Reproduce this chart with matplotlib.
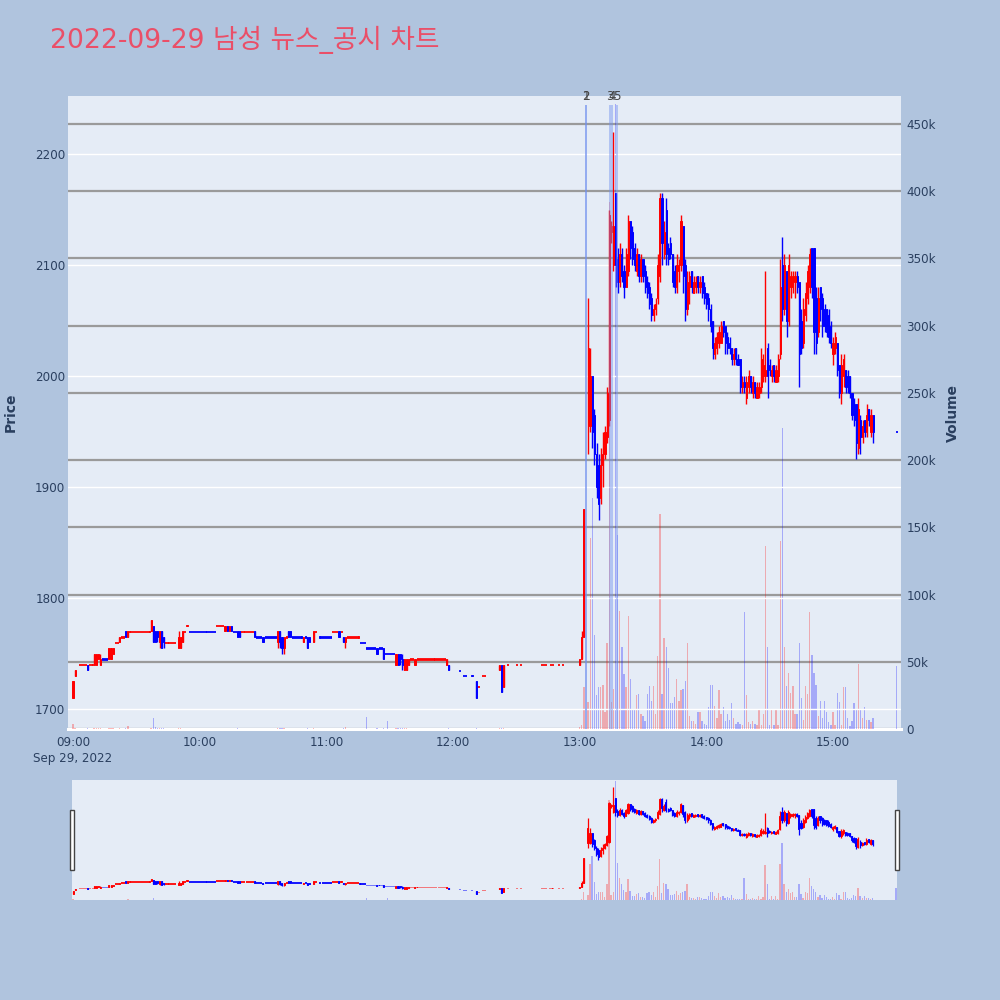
import matplotlib
matplotlib.use("Agg")
import matplotlib.pyplot as plt
from matplotlib.patches import Rectangle
from matplotlib.transforms import blended_transform_factory
import numpy as np

# ---------------- data ----------------
TITLE = "2022-09-29 남성 뉴스_공시 차트"
DATE_LABEL = "Sep 29, 2022"
hour_ticks = ["09:00", "10:00", "11:00", "12:00", "13:00", "14:00", "15:00"]
price_ticks = [1700, 1800, 1900, 2000, 2100, 2200]
volume_ticks = [0, 50000, 100000, 150000, 200000, 250000, 300000, 350000, 400000, 450000]
volume_tick_labels = ["0", "50k", "100k", "150k", "200k", "250k", "300k", "350k", "400k", "450k"]

# morning session: minutes after 09:00
am_min = [0, 1, 3, 4, 5, 6, 7, 8, 9, 10,
          11, 12, 13, 14, 15, 16, 17, 18, 19, 20,
          21, 22, 23, 24, 25, 26, 27, 28, 29, 30,
          31, 32, 33, 34, 35, 36, 37, 38, 39, 40,
          41, 42, 43, 44, 45, 46, 47, 48, 50, 51,
          52, 53, 54, 55, 56, 57, 58, 59, 60, 61,
          62, 63, 64, 65, 66, 67, 68, 69, 70, 71,
          72, 73, 74, 75, 76, 77, 78, 79, 80, 81,
          82, 83, 84, 85, 86, 87, 88, 89, 90, 91,
          92, 93, 94, 95, 96, 97, 98, 99, 100, 101,
          102, 103, 104, 105, 106, 107, 108, 109, 110, 111,
          112, 114, 115, 117, 118, 119, 120, 121, 122, 123,
          124, 125, 126, 127, 128, 129, 130, 131, 132, 133,
          134, 135, 136, 137, 138, 139, 140, 141, 142, 143,
          144, 145, 146, 147, 148, 149, 150, 151, 152, 153,
          154, 155, 156, 157, 158, 159, 160, 161, 162, 163,
          164, 165, 166, 167, 168, 169, 170, 171, 172, 173,
          174, 175, 176, 177, 178, 183, 185, 186, 189, 191,
          192, 194, 195, 202, 203, 204, 206, 210, 212, 222,
          223, 224, 226, 227, 230, 232]
am_open = [1710, 1730, 1740, 1740, 1740, 1740, 1740, 1740, 1740, 1740,
           1740, 1745, 1740, 1745, 1745, 1745, 1745, 1745, 1750, 1760,
           1760, 1760, 1765, 1765, 1770, 1765, 1770, 1770, 1770, 1770,
           1770, 1770, 1770, 1770, 1770, 1770, 1770, 1775, 1770, 1770,
           1760, 1770, 1765, 1760, 1760, 1760, 1760, 1760, 1755, 1755,
           1760, 1770, 1775, 1770, 1770, 1770, 1770, 1770, 1770, 1770,
           1770, 1770, 1770, 1770, 1770, 1770, 1775, 1775, 1775, 1775,
           1770, 1775, 1770, 1775, 1770, 1770, 1770, 1770, 1770, 1770,
           1770, 1770, 1770, 1770, 1770, 1765, 1765, 1765, 1765, 1765,
           1765, 1765, 1765, 1765, 1765, 1760, 1770, 1765, 1755, 1765,
           1770, 1770, 1765, 1765, 1765, 1765, 1765, 1760, 1765, 1765,
           1765, 1760, 1770, 1765, 1765, 1765, 1765, 1765, 1765, 1770,
           1770, 1770, 1770, 1770, 1765, 1760, 1765, 1765, 1765, 1765,
           1765, 1765, 1760, 1760, 1760, 1755, 1755, 1755, 1755, 1755,
           1755, 1755, 1755, 1755, 1750, 1750, 1750, 1750, 1750, 1740,
           1750, 1750, 1745, 1735, 1735, 1740, 1745, 1745, 1740, 1745,
           1745, 1745, 1745, 1745, 1745, 1745, 1745, 1745, 1745, 1745,
           1745, 1745, 1745, 1740, 1740, 1735, 1730, 1730, 1730, 1725,
           1720, 1730, 1730, 1735, 1740, 1720, 1740, 1740, 1740, 1740,
           1740, 1740, 1740, 1740, 1740, 1740]
am_high = [1725, 1735, 1740, 1740, 1740, 1740, 1740, 1740, 1740, 1750,
           1750, 1750, 1750, 1745, 1745, 1745, 1755, 1755, 1755, 1760,
           1760, 1765, 1765, 1765, 1770, 1770, 1770, 1770, 1770, 1770,
           1770, 1770, 1770, 1770, 1770, 1770, 1780, 1775, 1770, 1770,
           1770, 1770, 1765, 1760, 1760, 1760, 1760, 1760, 1770, 1765,
           1770, 1770, 1775, 1770, 1770, 1770, 1770, 1770, 1770, 1770,
           1770, 1770, 1770, 1770, 1770, 1770, 1775, 1775, 1775, 1775,
           1775, 1775, 1775, 1775, 1770, 1770, 1770, 1770, 1770, 1770,
           1770, 1770, 1770, 1770, 1770, 1765, 1765, 1765, 1765, 1765,
           1765, 1765, 1765, 1765, 1765, 1770, 1770, 1765, 1765, 1765,
           1770, 1770, 1765, 1765, 1765, 1765, 1765, 1765, 1765, 1765,
           1765, 1770, 1770, 1765, 1765, 1765, 1765, 1765, 1765, 1770,
           1770, 1770, 1770, 1770, 1765, 1765, 1765, 1765, 1765, 1765,
           1765, 1765, 1760, 1760, 1760, 1755, 1755, 1755, 1755, 1755,
           1755, 1755, 1755, 1755, 1750, 1750, 1750, 1750, 1750, 1750,
           1750, 1750, 1750, 1745, 1745, 1745, 1745, 1745, 1745, 1745,
           1745, 1745, 1745, 1745, 1745, 1745, 1745, 1745, 1745, 1745,
           1745, 1745, 1745, 1745, 1740, 1735, 1730, 1730, 1730, 1725,
           1720, 1730, 1730, 1740, 1740, 1740, 1740, 1740, 1740, 1740,
           1740, 1740, 1740, 1740, 1740, 1740]
am_low = [1710, 1730, 1740, 1740, 1740, 1740, 1735, 1740, 1740, 1740,
          1740, 1745, 1740, 1745, 1745, 1745, 1745, 1745, 1750, 1760,
          1760, 1760, 1765, 1765, 1765, 1765, 1770, 1770, 1770, 1770,
          1770, 1770, 1770, 1770, 1770, 1770, 1770, 1760, 1760, 1760,
          1755, 1755, 1755, 1760, 1760, 1760, 1760, 1760, 1755, 1755,
          1760, 1770, 1775, 1770, 1770, 1770, 1770, 1770, 1770, 1770,
          1770, 1770, 1770, 1770, 1770, 1770, 1775, 1775, 1775, 1775,
          1770, 1770, 1770, 1770, 1770, 1770, 1765, 1765, 1770, 1770,
          1770, 1770, 1770, 1770, 1765, 1765, 1765, 1765, 1760, 1765,
          1765, 1765, 1765, 1765, 1765, 1755, 1755, 1750, 1750, 1765,
          1765, 1765, 1765, 1765, 1765, 1765, 1765, 1760, 1765, 1755,
          1760, 1760, 1770, 1765, 1765, 1765, 1765, 1765, 1765, 1770,
          1770, 1770, 1765, 1770, 1760, 1755, 1765, 1765, 1765, 1765,
          1765, 1765, 1760, 1760, 1760, 1755, 1755, 1755, 1755, 1755,
          1750, 1755, 1755, 1745, 1750, 1750, 1750, 1750, 1750, 1740,
          1740, 1740, 1735, 1735, 1735, 1740, 1745, 1745, 1740, 1745,
          1745, 1745, 1745, 1745, 1745, 1745, 1745, 1745, 1745, 1745,
          1745, 1745, 1745, 1740, 1735, 1735, 1730, 1730, 1730, 1710,
          1720, 1730, 1730, 1735, 1715, 1720, 1740, 1740, 1740, 1740,
          1740, 1740, 1740, 1740, 1740, 1740]
am_close = [1725, 1735, 1740, 1740, 1740, 1740, 1735, 1740, 1740, 1750,
            1750, 1750, 1745, 1745, 1745, 1745, 1755, 1755, 1755, 1760,
            1760, 1765, 1765, 1765, 1765, 1770, 1770, 1770, 1770, 1770,
            1770, 1770, 1770, 1770, 1770, 1770, 1780, 1760, 1760, 1765,
            1770, 1755, 1760, 1760, 1760, 1760, 1760, 1760, 1765, 1765,
            1770, 1770, 1775, 1770, 1770, 1770, 1770, 1770, 1770, 1770,
            1770, 1770, 1770, 1770, 1770, 1770, 1775, 1775, 1775, 1775,
            1775, 1770, 1775, 1770, 1770, 1770, 1765, 1765, 1770, 1770,
            1770, 1770, 1770, 1770, 1765, 1765, 1765, 1765, 1760, 1765,
            1765, 1765, 1765, 1765, 1765, 1770, 1760, 1755, 1765, 1765,
            1765, 1765, 1765, 1765, 1765, 1765, 1765, 1765, 1765, 1755,
            1760, 1770, 1770, 1765, 1765, 1765, 1765, 1765, 1765, 1770,
            1770, 1770, 1765, 1770, 1760, 1765, 1765, 1765, 1765, 1765,
            1765, 1765, 1760, 1760, 1760, 1755, 1755, 1755, 1755, 1755,
            1750, 1755, 1755, 1745, 1750, 1750, 1750, 1750, 1750, 1750,
            1740, 1745, 1740, 1745, 1745, 1745, 1745, 1745, 1745, 1745,
            1745, 1745, 1745, 1745, 1745, 1745, 1745, 1745, 1745, 1745,
            1745, 1745, 1745, 1745, 1735, 1735, 1730, 1730, 1730, 1710,
            1720, 1730, 1730, 1740, 1715, 1740, 1740, 1740, 1740, 1740,
            1740, 1740, 1740, 1740, 1740, 1740]
am_vol = [4000, 800, 300, 200, 300, 200, 500, 200, 300, 900,
          600, 400, 700, 200, 200, 300, 800, 500, 600, 300,
          200, 400, 300, 200, 700, 2000, 300, 200, 200, 300,
          200, 200, 300, 200, 200, 300, 900, 8000, 1500, 800,
          600, 1000, 400, 200, 200, 300, 200, 200, 600, 500,
          300, 200, 200, 200, 100, 200, 300, 100, 200, 100,
          200, 100, 200, 300, 100, 200, 300, 200, 200, 300,
          300, 300, 200, 300, 200, 200, 400, 300, 200, 200,
          200, 300, 200, 200, 300, 200, 200, 300, 300, 200,
          200, 300, 200, 200, 300, 500, 700, 600, 400, 200,
          300, 200, 200, 300, 200, 200, 300, 300, 200, 400,
          300, 400, 200, 200, 300, 200, 200, 300, 200, 300,
          200, 200, 300, 200, 400, 1500, 200, 300, 200, 200,
          300, 200, 200, 300, 200, 9000, 200, 300, 200, 200,
          500, 200, 300, 600, 200, 6000, 200, 300, 200, 700,
          900, 800, 600, 700, 500, 300, 200, 200, 300, 200,
          200, 300, 200, 200, 300, 200, 200, 300, 200, 200,
          300, 200, 200, 300, 400, 300, 200, 200, 200, 900,
          300, 200, 200, 500, 800, 600, 200, 200, 200, 200,
          200, 200, 300, 200, 200, 200]
# direction of flat (open == close) candles: r = up colour, b = down colour
am_dir = ("rrrrrrbrrr" "rrrbbbrrrr" "rrrrbrrrrr" "rrrrrrrbbb" "rbbrrrrrrr"
          "rrrbbbbbbb" "bbbbbbrrrr" "rbrbbbbbrr" "rrrrbbbbbb" "bbbbbrbbrr"
          "bbbbbbbrbb" "brrbbbbbbr" "rrbrbrrrrr" "rrbbbbbbbb" "bbbbbbbbbr"
          "bbbrrrrrrr" "rrrrrrrrrr" "rrrrbbbbbb" "rrrrbrrrrr" "rrrrrr")

# afternoon session: minutes after 13:00
pm_min = [0, 1, 2, 4, 5, 6, 7, 8, 9, 10,
          11, 12, 13, 14, 15, 16, 17, 18, 19, 20,
          21, 22, 23, 24, 25, 26, 27, 28, 29, 30,
          31, 32, 33, 34, 35, 36, 37, 38, 39, 40,
          41, 42, 43, 44, 45, 46, 47, 48, 49, 50,
          51, 52, 53, 54, 55, 56, 57, 58, 59, 60,
          61, 62, 63, 64, 65, 66, 67, 68, 69, 70,
          71, 72, 73, 74, 75, 76, 77, 78, 79, 80,
          81, 82, 83, 84, 85, 86, 87, 88, 89, 90,
          91, 92, 93, 94, 95, 96, 97, 98, 99, 100,
          101, 102, 103, 104, 105, 106, 107, 108, 109, 110,
          111, 112, 113, 114, 115, 116, 117, 118, 119, 120,
          121, 122, 123, 124, 125, 126, 127, 128, 129, 130,
          131, 132, 133, 134, 135, 136, 137, 138, 139, 150]
pm_open = [1740, 1745, 1765, 1955, 1955, 2000, 1965, 1930, 1920, 1890,
           1920, 1930, 1945, 1960, 2130, 2100, 2165, 2105, 2085, 2110,
           2095, 2080, 2095, 2140, 2130, 2115, 2095, 2110, 2090, 2105,
           2095, 2085, 2080, 2070, 2055, 2060, 2070, 2090, 2160, 2110,
           2150, 2115, 2120, 2110, 2095, 2080, 2095, 2100, 2135, 2100,
           2060, 2080, 2095, 2075, 2080, 2090, 2080, 2090, 2080, 2075,
           2070, 2060, 2050, 2020, 2025, 2030, 2030, 2050, 2045, 2035,
           2030, 2025, 2015, 2025, 2015, 2015, 1990, 1995, 1980, 1990,
           2000, 1985, 1995, 1980, 1985, 1990, 2000, 2000, 2025, 2010,
           2000, 2010, 1995, 2000, 2020, 2100, 2060, 2095, 2050, 2080,
           2080, 2085, 2090, 2085, 2050, 2030, 2055, 2070, 2080, 2115,
           2115, 2070, 2040, 2080, 2070, 2060, 2060, 2055, 2045, 2020,
           2025, 2030, 2010, 1985, 2000, 2005, 2000, 2000, 1985, 1975,
           1975, 1935, 1960, 1945, 1960, 1950, 1970, 1950, 1965, 1950]
pm_high = [1745, 1770, 1880, 2070, 2025, 2000, 1970, 1940, 1930, 1935,
           1950, 1955, 1990, 2150, 2140, 2220, 2165, 2115, 2120, 2115,
           2100, 2115, 2145, 2140, 2135, 2120, 2115, 2110, 2110, 2105,
           2100, 2090, 2085, 2075, 2065, 2070, 2110, 2165, 2165, 2140,
           2160, 2120, 2125, 2110, 2100, 2110, 2105, 2145, 2135, 2105,
           2095, 2095, 2095, 2090, 2090, 2090, 2090, 2090, 2085, 2075,
           2075, 2065, 2050, 2035, 2040, 2045, 2050, 2050, 2045, 2040,
           2035, 2025, 2025, 2025, 2020, 2015, 2000, 2000, 2000, 2005,
           2000, 2000, 1995, 1995, 1995, 2025, 2020, 2095, 2030, 2015,
           2010, 2010, 2010, 2020, 2105, 2125, 2110, 2095, 2110, 2095,
           2095, 2095, 2095, 2085, 2060, 2070, 2085, 2100, 2115, 2115,
           2115, 2080, 2080, 2080, 2075, 2065, 2060, 2060, 2050, 2035,
           2040, 2030, 2010, 2020, 2020, 2005, 2005, 2000, 1985, 1980,
           1975, 1980, 1965, 1960, 1960, 1975, 1970, 1970, 1965, 1950]
pm_low = [1740, 1745, 1765, 1930, 1950, 1935, 1920, 1890, 1870, 1885,
          1900, 1925, 1940, 1955, 2120, 2095, 2080, 2075, 2080, 2085,
          2070, 2080, 2090, 2105, 2100, 2095, 2090, 2085, 2085, 2085,
          2075, 2070, 2060, 2050, 2050, 2055, 2065, 2085, 2100, 2105,
          2100, 2100, 2105, 2080, 2075, 2075, 2085, 2095, 2075, 2050,
          2055, 2065, 2075, 2075, 2075, 2075, 2075, 2070, 2065, 2060,
          2050, 2040, 2015, 2015, 2020, 2025, 2030, 2035, 2020, 2020,
          2020, 2010, 2010, 2010, 2010, 1985, 1985, 1985, 1975, 1985,
          1985, 1980, 1980, 1980, 1980, 1985, 1995, 1995, 1980, 2000,
          1995, 1995, 1995, 1995, 2015, 2050, 2055, 2035, 2045, 2070,
          2075, 2070, 2075, 1990, 2020, 2025, 2050, 2065, 2075, 2070,
          2020, 2020, 2035, 2050, 2035, 2040, 2035, 2030, 2025, 2010,
          2020, 2000, 1980, 1975, 1990, 1985, 1985, 1980, 1960, 1955,
          1925, 1930, 1930, 1940, 1945, 1945, 1955, 1945, 1940, 1950]
pm_close = [1745, 1765, 1880, 2025, 2000, 1950, 1930, 1900, 1885, 1920,
            1930, 1950, 1985, 2145, 2135, 2135, 2100, 2085, 2110, 2090,
            2080, 2110, 2140, 2115, 2105, 2100, 2110, 2090, 2105, 2090,
            2080, 2075, 2065, 2055, 2060, 2065, 2100, 2160, 2120, 2130,
            2110, 2105, 2110, 2085, 2080, 2100, 2100, 2140, 2090, 2060,
            2085, 2090, 2080, 2085, 2085, 2080, 2085, 2075, 2070, 2065,
            2060, 2045, 2025, 2030, 2035, 2040, 2045, 2040, 2030, 2025,
            2025, 2015, 2020, 2015, 2010, 1990, 1995, 1990, 1995, 2000,
            1990, 1995, 1985, 1990, 1990, 2015, 2010, 2005, 2000, 2005,
            2005, 2000, 2005, 2015, 2080, 2060, 2100, 2050, 2100, 2090,
            2090, 2090, 2080, 2020, 2025, 2060, 2075, 2095, 2110, 2080,
            2040, 2030, 2070, 2060, 2045, 2045, 2040, 2035, 2030, 2030,
            2035, 2005, 1985, 2010, 2015, 1990, 1990, 1985, 1965, 1960,
            1940, 1970, 1945, 1955, 1950, 1965, 1960, 1965, 1950, 1950]
pm_vol = [1700, 3000, 31000, 20000, 142000, 172000, 70000, 25000, 31000, 31000,
          33000, 13000, 64000, 392000, 20000, 30000, 465000, 144000, 88000, 61000,
          41000, 31000, 84000, 37000, 14000, 14000, 25000, 26000, 11000, 10000,
          6000, 26000, 32000, 21000, 32000, 11000, 54000, 160000, 26000, 68000,
          61000, 45000, 19000, 19000, 24000, 37000, 21000, 29000, 30000, 36000,
          64000, 10000, 6000, 6000, 4000, 13000, 13000, 6000, 4000, 3000,
          16000, 33000, 33000, 17000, 8000, 29000, 11000, 16000, 6000, 11000,
          7000, 19000, 8000, 4000, 5000, 4000, 3000, 87000, 25000, 5000,
          4000, 6000, 4000, 3000, 14000, 3000, 11000, 136000, 61000, 3000,
          14000, 3000, 14000, 3000, 140000, 224000, 61000, 32000, 42000, 27000,
          32000, 11000, 11000, 64000, 23000, 7000, 32000, 26000, 87000, 55000,
          42000, 33000, 10000, 21000, 8000, 21000, 13000, 5000, 3000, 13000,
          3000, 27000, 20000, 3000, 31000, 31000, 8000, 2000, 6000, 19000,
          14000, 48000, 15000, 8000, 16000, 7000, 7000, 5000, 8000, 47000]
pm_dir = "b" * len(pm_min)   # only used for flat candles

# news / disclosure markers (minutes after 13:00) and their labels
news_min = [3.1, 3.1, 14.4, 15.2, 17.5]
news_label = ["1", "2", "3", "4", "5"]

# ---------------- style ----------------
BG = "#b0c4de"
PLOT_BG = "#e5ecf6"
UP = "#ff0000"
DOWN = "#0000ff"
TXT = "#2a3f5f"
FONTS = ["DejaVu Sans", "Noto Sans CJK KR"]
plt.rcParams["font.family"] = FONTS

W, H = 1000, 1000
fig = plt.figure(figsize=(10, 10), dpi=100)
fig.patch.set_facecolor(BG)


def px_axes(x0, y0, x1, y1):
    return fig.add_axes([x0 / W, 1 - y1 / H, (x1 - x0) / W, (y1 - y0) / H])


# combine sessions on one minute axis (minutes after 09:00)
x_all = np.array(am_min + [240 + m for m in pm_min], dtype=float)
o_all = np.array(am_open + pm_open, dtype=float)
h_all = np.array(am_high + pm_high, dtype=float)
l_all = np.array(am_low + pm_low, dtype=float)
c_all = np.array(am_close + pm_close, dtype=float)
v_all = np.array(am_vol + pm_vol, dtype=float)
d_all = am_dir + pm_dir
assert len(x_all) == len(o_all) == len(h_all) == len(l_all) == len(c_all) == len(v_all) == len(d_all)

cols = []
for o, c, d in zip(o_all, c_all, d_all):
    if c > o:
        cols.append(UP)
    elif c < o:
        cols.append(DOWN)
    else:
        cols.append(UP if d == "r" else DOWN)

flat = np.isclose(o_all, c_all)
body_bottom = np.where(flat, o_all - 0.6, np.minimum(o_all, c_all))
body_height = np.where(flat, 1.2, np.abs(c_all - o_all))

PRICE_LIM = (1682, 2252.3)
VOL_LIM = (0, 470800)


def draw(ax_v, ax_p, wick_lw, edge_lw):
    ax_v.bar(x_all, v_all, width=0.6, color=cols, alpha=0.28, linewidth=0, zorder=2)
    ax_p.vlines(x_all, l_all, h_all, colors=cols, linewidth=wick_lw, zorder=3)
    ax_p.bar(x_all, body_height, bottom=body_bottom, width=0.5, color=cols,
             edgecolor=cols, linewidth=edge_lw, zorder=4)


# ---------------- main chart ----------------
ax_v = px_axes(68, 96, 901, 729)
ax_v.set_facecolor(PLOT_BG)
ax_p = ax_v.twinx()
ax_p.patch.set_visible(False)

draw(ax_v, ax_p, 1.0, 0.7)

ax_v.set_xlim(-2.37, 392.2)
ax_v.set_ylim(*VOL_LIM)
ax_p.set_ylim(*PRICE_LIM)

ax_p.yaxis.tick_left()
ax_p.yaxis.set_label_position("left")
ax_v.yaxis.tick_right()
ax_v.yaxis.set_label_position("right")

ax_p.set_yticks(price_ticks)
ax_p.set_yticklabels([str(t) for t in price_ticks])
ax_v.set_yticks(volume_ticks)
ax_v.set_yticklabels(volume_tick_labels)
ax_v.set_xticks([60 * i for i in range(len(hour_ticks))])
ax_v.set_xticklabels([hour_ticks[0] + "\n" + DATE_LABEL] + hour_ticks[1:],
                     linespacing=1.35)

for ax in (ax_v, ax_p):
    for s in ax.spines.values():
        s.set_visible(False)
    ax.tick_params(length=0, labelsize=8.6, labelcolor=TXT)
ax_p.tick_params(axis="y", pad=2)
ax_v.tick_params(axis="y", pad=4)
ax_v.tick_params(axis="x", pad=5)

ax_v.set_axisbelow(True)
ax_v.grid(axis="y", color="#9a9a9a", linewidth=1.6)
ax_v.grid(axis="x", visible=False)
ax_p.set_axisbelow(True)
ax_p.grid(axis="y", color="white", linewidth=1.0)
ax_p.grid(axis="x", visible=False)
ax_v.axhline(0, color="white", linewidth=2.2, zorder=1.5, clip_on=False)

ax_p.set_ylabel("Price", fontsize=10, fontweight="bold", color=TXT)
ax_p.yaxis.set_label_coords((18 - 68) / 833, 0.5)
ax_v.set_ylabel("Volume", fontsize=10, fontweight="bold", color=TXT)
ax_v.yaxis.set_label_coords((946 - 68) / 833, 0.5)

trans = blended_transform_factory(ax_p.transData, ax_p.transAxes)
for m, lab in zip(news_min, news_label):
    xm = 240 + m
    ax_p.axvline(xm, ymin=0, ymax=0.984, color="#6f8fef", alpha=0.45,
                 linewidth=1.4, zorder=6)
    ax_p.text(xm, 0.999, lab, transform=trans, ha="center", va="center",
              fontsize=8.6, color="#444444", zorder=7)

# ---------------- range slider ----------------
ax_sv = px_axes(72, 780, 897, 900)
ax_sv.set_facecolor(PLOT_BG)
ax_sp = ax_sv.twinx()
ax_sp.patch.set_visible(False)
draw(ax_sv, ax_sp, 0.9, 0.7)
ax_sv.set_xlim(-0.5, 390.5)
ax_sv.set_ylim(*VOL_LIM)
ax_sp.set_ylim(*PRICE_LIM)
for ax in (ax_sv, ax_sp):
    ax.set_xticks([])
    ax.set_yticks([])
    for s in ax.spines.values():
        s.set_visible(False)

for hx in (69.5, 895.3):
    fig.patches.append(Rectangle((hx / W, 1 - 870 / H), 4 / W, 60 / H,
                                 transform=fig.transFigure, facecolor="white",
                                 edgecolor="#444444", linewidth=1.0, zorder=10))

# ---------------- title ----------------
fig.text(50 / W, 1 - 40 / H, TITLE, fontsize=19.2, color="#ea4f68",
         ha="left", va="center", family=FONTS)

fig.savefig("out.png", dpi=100, facecolor=BG)
